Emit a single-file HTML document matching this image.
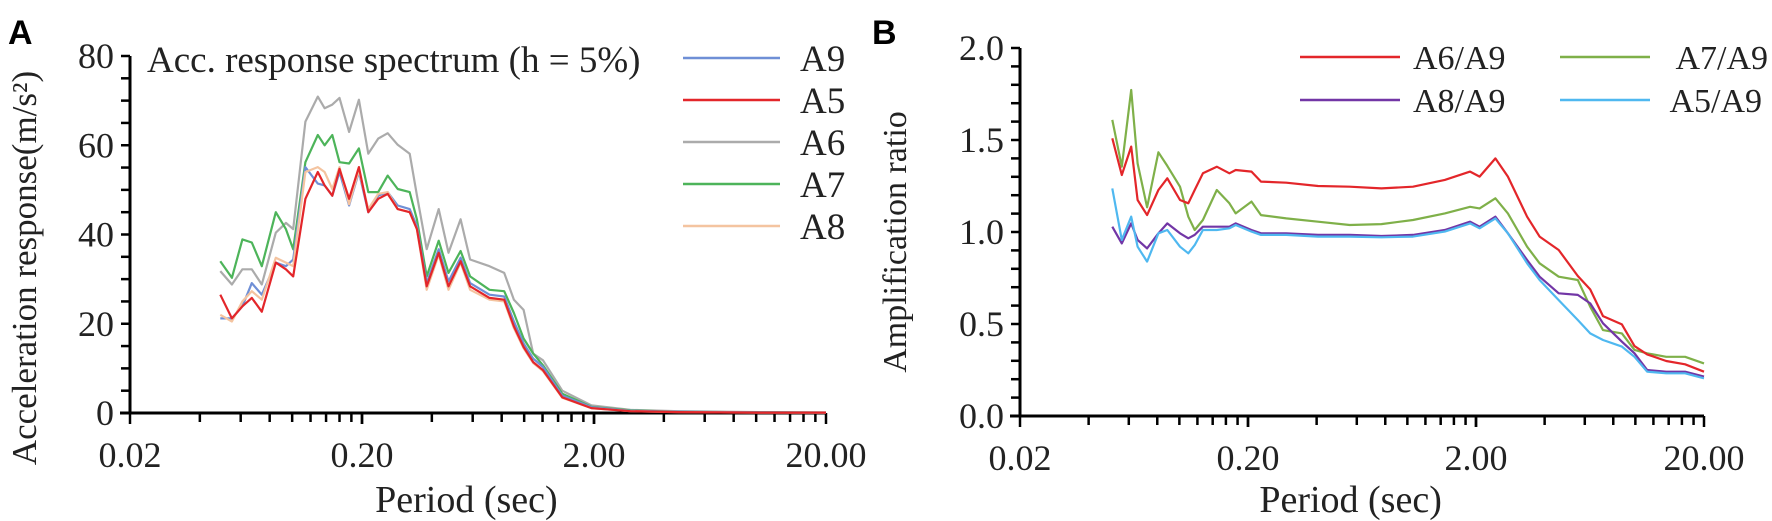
<!DOCTYPE html>
<html><head><meta charset="utf-8"><style>
body{margin:0;background:#fff;}
svg{display:block;font-family:"Liberation Serif",serif;}
</style></head><body>
<svg id="chart" width="1772" height="521" viewBox="0 0 1772 521" xmlns="http://www.w3.org/2000/svg">
<text x="8" y="44" font-family="Liberation Sans, sans-serif" font-weight="bold" font-size="34">A</text>
<text x="872" y="44" font-family="Liberation Sans, sans-serif" font-weight="bold" font-size="34">B</text>
<g id="pa"></g>
<g id="pb"></g>
</svg>
<script>
const periodsA=[0.049,0.055,0.061,0.067,0.074,0.085,0.094,0.101,0.114,0.129,0.138,0.149,0.160,0.176,0.194,0.213,0.235,0.258,0.285,0.321,0.345,0.380,0.428,0.472,0.532,0.585,0.709,0.820,0.903,0.994,1.094,1.205,1.46,1.95,2.87,4.63,10.4,20];
const seriesA9=[21.2,21.2,23.9,29.1,26.5,33.7,32.9,34.4,55.1,51.4,51,48.7,54,46.5,54,45,48.7,49.5,46.5,45.7,41.9,29.1,36.7,29.5,34.8,29.1,26.5,26.1,20.5,15.6,12.2,10.3,3.9,1.3,0.5,0.3,0.15,0.1];
const seriesA5=[26.5,21.2,23.9,25.8,22.7,33.7,32.2,30.6,48,54,51,48.7,54.7,48,55.1,45,48,49.1,45.7,45,41.2,28.4,35.9,28.4,34,28.4,25.8,25.4,19.4,14.8,11.4,9.6,3.5,1.1,0.4,0.2,0.1,0.1];
const seriesA6=[31.8,28.8,32.2,32.2,28.8,40.4,42.6,41.2,65.3,70.9,68.3,69.1,70.6,63.0,70.2,58.1,61.5,62.7,60.1,58.1,48.8,36.7,45.7,35.9,43.4,34.4,32.9,31.4,25.4,23.1,13.3,11.8,5.0,1.7,0.7,0.4,0.2,0.15];
const seriesA7=[34,30.3,38.9,38.2,32.9,45,41.2,36.7,56.2,62.3,60,62.3,56.2,55.9,59.3,49.5,49.5,53.2,50.2,49.5,43.4,30.6,38.6,31.4,36.3,30.6,27.6,27.3,22.4,16.7,13.3,10.7,4.3,1.4,0.6,0.3,0.15,0.1];
const seriesA8=[22,20.5,25,27.3,25.4,34.8,33.7,32.9,54,55.1,54,50.2,55.1,46.8,54.4,45.7,49.1,49.5,45.7,45,41.2,27.6,35.5,27.6,33.7,27.6,25.4,25,19,14.5,11.2,9.4,3.4,1.1,0.4,0.2,0.1,0.1];
const legendA=["A9","A5","A6","A7","A8"];
const yTicksA=["0","20","40","60","80"];
const xTickLabels=["0.02","0.20","2.00","20.00"];

const periodsB=[0.0508,0.0559,0.0615,0.0656,0.0722,0.0809,0.0885,0.1006,0.1094,0.1167,0.1268,0.1459,0.1657,0.1766,0.2071,0.228,0.2944,0.4055,0.5584,0.769,1.059,1.459,1.884,2.075,2.433,2.76,3.35,3.80,4.61,5.59,6.34,7.21,8.73,9.91,11.27,13.65,16.52,20];
const ratioA6=[1.509,1.310,1.464,1.174,1.092,1.228,1.292,1.174,1.156,1.228,1.319,1.355,1.319,1.337,1.328,1.274,1.268,1.250,1.246,1.237,1.246,1.283,1.328,1.301,1.400,1.301,1.083,0.975,0.902,0.761,0.688,0.543,0.498,0.380,0.335,0.299,0.281,0.241];
const ratioA7=[1.609,1.355,1.772,1.373,1.134,1.433,1.359,1.246,1.083,1.011,1.065,1.228,1.156,1.101,1.165,1.092,1.074,1.056,1.038,1.043,1.065,1.101,1.137,1.128,1.183,1.101,0.920,0.830,0.757,0.739,0.594,0.467,0.449,0.359,0.341,0.322,0.322,0.286];
const ratioA8=[1.029,0.938,1.047,0.957,0.911,0.993,1.047,0.993,0.966,0.984,1.029,1.029,1.029,1.047,1.011,0.993,0.993,0.984,0.984,0.978,0.984,1.011,1.056,1.029,1.083,0.993,0.848,0.757,0.667,0.658,0.612,0.504,0.404,0.341,0.250,0.241,0.241,0.214];
const ratioA5=[1.237,0.957,1.083,0.920,0.839,0.993,1.011,0.920,0.884,0.929,1.011,1.011,1.020,1.038,1.002,0.984,0.984,0.975,0.975,0.971,0.975,1.002,1.047,1.020,1.074,0.993,0.830,0.739,0.630,0.522,0.449,0.413,0.377,0.322,0.241,0.232,0.232,0.205];
const legendB=["A6/A9","A7/A9","A8/A9","A5/A9"];
const yTicksB=["0.0","0.5","1.0","1.5","2.0"];

const NS="http://www.w3.org/2000/svg";
function mk(parent,tag,attrs,text){const e=document.createElementNS(NS,tag);for(const k in attrs)e.setAttribute(k,attrs[k]);if(text!==undefined)e.textContent=text;parent.appendChild(e);return e;}

function drawPanel(g,cfg){
  const xs=v=>cfg.x0+cfg.dec*Math.log10(v/0.02);
  const ys=v=>cfg.y0-(v/cfg.ymax)*(cfg.y0-cfg.y1);
  const ya=mk(g,"line",{x1:cfg.x0,y1:cfg.y1,x2:cfg.x0,y2:cfg.y0+1,stroke:"#000","stroke-width":3});
  
  
  const xa=mk(g,"line",{x1:cfg.x0-10,y1:cfg.y0,x2:cfg.x0+3*cfg.dec,y2:cfg.y0,stroke:"#000","stroke-width":3});
  
  
  for(let v=0;v<=cfg.ymax+1e-9;v+=cfg.minor){
    const y=ys(v);
    const t=mk(g,"line",{x1:cfg.x0-9,y1:y,x2:cfg.x0,y2:y,stroke:"#000","stroke-width":2.5});
    
    
  }
  cfg.yLabels.forEach((lab,i)=>{
    const v=i*cfg.major;
    const t=mk(g,"text",{x:cfg.x0-16,y:ys(v)+12,"text-anchor":"end","font-size":36,fill:"#222"},lab);
    
    
  });
  for(let d=0;d<3;d++){
    for(let m=1;m<=10;m++){
      const v=0.02*Math.pow(10,d)*m;
      const x=xs(v);
      const t=mk(g,"line",{x1:x,y1:cfg.y0,x2:x,y2:cfg.y0+(m===1||m===10?11:9),stroke:"#000","stroke-width":2.5});
      
      
    }
  }
  xTickLabels.forEach((lab,i)=>{
    const t=mk(g,"text",{x:cfg.x0+i*cfg.dec,y:cfg.y0+54,"text-anchor":"middle","font-size":36,fill:"#222"},lab);
    
    
  });
  const xt=mk(g,"text",{x:cfg.x0+1.45*cfg.dec,y:512,"text-anchor":"middle","font-size":38,fill:"#222"},"Period (sec)");
  
  
  const yt=mk(g,"text",{x:0,y:0,"text-anchor":"middle","font-size":cfg.ytSize,fill:"#222",transform:`translate(${cfg.ytX},${cfg.ytY}) rotate(-90)`},cfg.yTitle);
  
  
  cfg.series.forEach(s=>{
    const d=s.vals.map((v,i)=>(i?"L":"M")+xs(cfg.periods[i]).toFixed(1)+","+ys(v).toFixed(1)).join("");
    const p=mk(g,"path",{d:d,fill:"none",stroke:s.color,"stroke-width":2.2,"stroke-linejoin":"round"});
    
    
  });
}

const pa=document.getElementById('pa');
const colA=["#6f8fd6","#e3262a","#ababab","#4db45a","#f4c4a0"];
const dataA=[seriesA9,seriesA5,seriesA6,seriesA7,seriesA8];
drawPanel(pa,{x0:130,dec:232,y0:413,y1:56,ymax:80,minor:5,major:20,yLabels:yTicksA,periods:periodsA,
  yTitle:"Acceleration response(m/s²)",ytX:36,ytY:268,ytSize:35,
  series:[2,3,0,4,1].map(i=>({name:legendA[i],vals:dataA[i],color:colA[i]}))});
const ta=mk(pa,"text",{x:147,y:72,"font-size":37,fill:"#222"},"Acc. response spectrum (h = 5%)");


legendA.forEach((lab,i)=>{
  const y=58+i*42;
  const l=mk(pa,"line",{x1:683,y1:y,x2:780,y2:y,stroke:colA[i],"stroke-width":2.5});
  
  
  const t=mk(pa,"text",{x:800,y:y+13,"font-size":37,fill:"#222"},lab);
  
  
});

const pb=document.getElementById('pb');
const colB=["#e3262a","#7fb049","#7236a6","#4fb8f0"];
const dataB=[ratioA6,ratioA7,ratioA8,ratioA5];
drawPanel(pb,{x0:1020,dec:228,y0:416,y1:48,ymax:2,minor:0.1,major:0.5,yLabels:yTicksB,periods:periodsB,
  yTitle:"Amplification ratio",ytX:906,ytY:242,ytSize:34,
  series:[1,0,2,3].map(i=>({name:legendB[i],vals:dataB[i],color:colB[i]}))});
const legPos=[[1300,1400,57,1413,"start"],[1560,1650,57,1768,"end"],[1300,1400,100,1413,"start"],[1560,1650,100,1762,"end"]];
legendB.forEach((lab,i)=>{
  const [x,x2,y,tx,anc]=legPos[i];
  const l=mk(pb,"line",{x1:x,y1:y,x2:x2,y2:y,stroke:colB[i],"stroke-width":2.5});
  
  
  const t=mk(pb,"text",{x:tx,y:y+12,"text-anchor":anc,"font-size":34,fill:"#222"},lab);
  
  
});
</script>
</body></html>
